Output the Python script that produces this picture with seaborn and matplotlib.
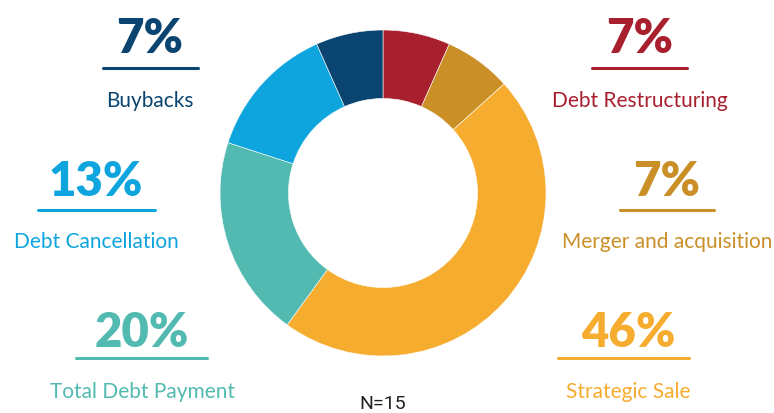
import matplotlib
matplotlib.use("Agg")
import matplotlib.pyplot as plt
import seaborn as sns
from matplotlib.lines import Line2D

# data, clockwise from 12 o'clock
categories = ["Debt Restructuring", "Merger and acquisition", "Strategic Sale",
              "Total Debt Payment", "Debt Cancellation", "Buybacks"]
counts = [1, 1, 7, 3, 2, 1]
pct_labels = ["7%", "7%", "46%", "20%", "13%", "7%"]
colors = ["#A81F2E", "#CB8F27", "#F6AC2F", "#52BAB0", "#0EA5DE", "#0A4571"]
n_total = 15

sns.set_theme(style="white")
plt.rcParams["font.family"] = ["Lato", "DejaVu Sans"]

W, H = 774, 413
fig = plt.figure(figsize=(W / 100, H / 100), dpi=100)

# donut: centre (383,193) px, radius 163 px
cx, cy, r = 383, 193, 163
ax = fig.add_axes([(cx - r) / W, (H - cy - r) / H, 2 * r / W, 2 * r / H])
ax.pie(counts, colors=colors, startangle=90, counterclock=False,
       wedgeprops=dict(width=0.42, edgecolor="white", linewidth=0.4))
ax.set_xlim(-1, 1)
ax.set_ylim(-1, 1)
ax.axis("off")

# label blocks: (x centre, pct y, line y, line x0, line x1, label y) in px
layout = {
    "Buybacks": (150, 39, 68, 103, 198, 101),
    "Debt Restructuring": (640, 39, 68, 592, 687, 101),
    "Debt Cancellation": (96, 182, 210, 38, 155, 242),
    "Merger and acquisition": (667, 182, 210, 620, 714, 242),
    "Total Debt Payment": (142, 333, 358, 76, 207, 392),
    "Strategic Sale": (628, 333, 358, 558, 689, 392),
}

for cat, pct, col in zip(categories, pct_labels, colors):
    x, py, ly, lx0, lx1, ty = layout[cat]
    fig.text(x / W, 1 - py / H, pct, color=col, fontsize=34, fontweight="heavy",
             ha="center", va="center")
    fig.add_artist(Line2D([lx0 / W, lx1 / W], [1 - ly / H, 1 - ly / H],
                          color=col, lw=2.2, transform=fig.transFigure))
    fig.text(x / W, 1 - ty / H, cat, color=col, fontsize=15, fontweight="normal",
             ha="center", va="center")

fig.text(383 / W, 1 - 404 / H, f"N={n_total}", color="#222222", fontsize=14,
         family="Roboto", ha="center", va="center")

fig.savefig("out.png", dpi=100, facecolor="white")
